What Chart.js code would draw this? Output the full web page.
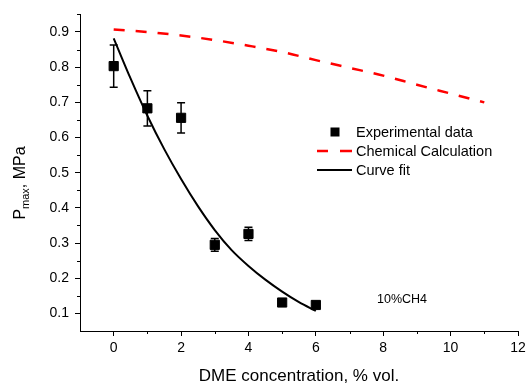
<!DOCTYPE html>
<html><head><meta charset="utf-8">
<script src="https://cdn.jsdelivr.net/npm/chart.js@4"></script>
<style>html,body{margin:0;padding:0;background:#fff}#wrap{width:530px;height:389px}</style>
</head><body><div id="wrap"><canvas id="c" width="530" height="389"></canvas></div>
<script>
const expX = [0, 1, 2, 3, 4, 5, 6];
const expY = [0.803, 0.683, 0.656, 0.295, 0.326, 0.131, 0.124];
const expErr = [0.06, 0.05, 0.043, 0.018, 0.019, 0.004, 0.004];
const calcX = [0, 1, 2, 3, 4, 5, 6, 7, 8, 9, 10, 11];
const calcY = [0.907, 0.900, 0.890, 0.877, 0.861, 0.843, 0.820, 0.798, 0.776, 0.750, 0.725, 0.700];
const fitX = [0, 0.5, 1, 1.5, 2, 2.5, 3, 3.5, 4, 4.5, 5, 5.5, 6];
const fitY = [0.882, 0.768, 0.662, 0.567, 0.482, 0.405, 0.337, 0.280, 0.235, 0.196, 0.162, 0.132, 0.107];
const xTicks = [0, 2, 4, 6, 8, 10, 12];
const yTicks = [0.1, 0.2, 0.3, 0.4, 0.5, 0.6, 0.7, 0.8, 0.9];
const xMinor = [1, 3, 5, 7, 9, 11];
const yMinor = [0.15, 0.25, 0.35, 0.45, 0.55, 0.65, 0.75, 0.85, 0.95];
const legendLabels = ['Experimental data', 'Chemical Calculation', 'Curve fit'];
const noteText = '10%CH4';
const xTitle = 'DME concentration, % vol.';
const yTitleParts = ['P', 'max', ', MPa'];

const FONT = 'Liberation Sans, Arial, sans-serif';

const extras = {
  id: 'extras',
  afterDatasetsDraw(chart) {
    const ctx = chart.ctx, xs = chart.scales.x, ys = chart.scales.y;
    ctx.save();
    ctx.strokeStyle = '#000';
    ctx.lineWidth = 1.5;
    for (let i = 0; i < expX.length; i++) {
      const px = xs.getPixelForValue(expX[i]);
      const t = ys.getPixelForValue(expY[i] + expErr[i]);
      const b = ys.getPixelForValue(expY[i] - expErr[i]);
      ctx.beginPath();
      ctx.moveTo(px, t); ctx.lineTo(px, b);
      ctx.moveTo(px - 4, t); ctx.lineTo(px + 4, t);
      ctx.moveTo(px - 4, b); ctx.lineTo(px + 4, b);
      ctx.stroke();
    }
    ctx.restore();
  },
  afterDraw(chart) {
    const ctx = chart.ctx, xs = chart.scales.x, ys = chart.scales.y, a = chart.chartArea;
    ctx.save();
    ctx.strokeStyle = '#000';
    ctx.lineWidth = 1;
    ctx.beginPath();
    xMinor.forEach(v => { const p = Math.round(xs.getPixelForValue(v)) + 0.5; ctx.moveTo(p, a.bottom); ctx.lineTo(p, a.bottom + 3); });
    yMinor.forEach(v => { const p = Math.round(ys.getPixelForValue(v)) + 0.5; ctx.moveTo(a.left, p); ctx.lineTo(a.left - 3, p); });
    ctx.stroke();

    ctx.fillStyle = '#000';
    // x title
    ctx.font = '17px ' + FONT;
    ctx.textAlign = 'center';
    ctx.textBaseline = 'alphabetic';
    ctx.fillText(xTitle, (a.left + a.right) / 2, 381);

    // y title (rotated, with subscript)
    ctx.save();
    ctx.translate(25, 183);
    ctx.rotate(-Math.PI / 2);
    const big = '16px ' + FONT, small = '11px ' + FONT;
    ctx.font = big; const w1 = ctx.measureText(yTitleParts[0]).width;
    ctx.font = small; const w2 = ctx.measureText(yTitleParts[1]).width;
    ctx.font = big; const w3 = ctx.measureText(yTitleParts[2]).width;
    let sx = -(w1 + w2 + w3) / 2;
    ctx.textAlign = 'left';
    ctx.font = big; ctx.fillText(yTitleParts[0], sx, 0); sx += w1;
    ctx.font = small; ctx.fillText(yTitleParts[1], sx, 4); sx += w2;
    ctx.font = big; ctx.fillText(yTitleParts[2], sx, 0);
    ctx.restore();

    // legend
    ctx.font = '14.5px ' + FONT;
    ctx.textAlign = 'left';
    ctx.textBaseline = 'middle';
    const lx = 356, ly = [132, 151, 170];
    ctx.fillRect(335 - 4.5, ly[0] - 4.5, 9, 9);
    ctx.strokeStyle = '#ff0000'; ctx.lineWidth = 2.5;
    ctx.beginPath(); ctx.moveTo(317, ly[1]); ctx.lineTo(328, ly[1]); ctx.moveTo(340, ly[1]); ctx.lineTo(352, ly[1]); ctx.stroke();
    ctx.strokeStyle = '#000'; ctx.lineWidth = 2;
    ctx.beginPath(); ctx.moveTo(317, ly[2]); ctx.lineTo(352, ly[2]); ctx.stroke();
    legendLabels.forEach((t, i) => ctx.fillText(t, lx, ly[i] + 1));

    // annotation
    ctx.font = '12.5px ' + FONT;
    ctx.fillText(noteText, 377, 300);
    ctx.restore();
  }
};

const axisCommon = {
  type: 'linear',
  grid: { display: true, drawOnChartArea: false, drawTicks: true, tickLength: 5, color: '#000', tickColor: '#000', lineWidth: 1 },
  border: { display: true, color: '#000', width: 1 },
};

new Chart(document.getElementById('c'), {
  type: 'scatter',
  data: {
    datasets: [
      { label: legendLabels[1], type: 'line', data: calcX.map((x, i) => ({ x, y: calcY[i] })),
        borderColor: '#ff0000', borderWidth: 2.5, borderDash: [11, 11], pointRadius: 0, cubicInterpolationMode: 'monotone', fill: false },
      { label: legendLabels[2], type: 'line', data: fitX.map((x, i) => ({ x, y: fitY[i] })),
        borderColor: '#000', borderWidth: 2, pointRadius: 0, cubicInterpolationMode: 'monotone', fill: false },
      { label: legendLabels[0], data: expX.map((x, i) => ({ x, y: expY[i] })),
        pointStyle: 'rect', pointRadius: 6.5, backgroundColor: '#000', borderColor: '#000', borderWidth: 1, showLine: false }
    ]
  },
  options: {
    responsive: false,
    animation: false,
    events: [],
    layout: { padding: { left: 0, right: 12, top: 7, bottom: 0 } },
    plugins: { legend: { display: false }, tooltip: { enabled: false } },
    scales: {
      x: Object.assign({}, axisCommon, {
        min: -1, max: 12,
        afterBuildTicks: s => { s.ticks = xTicks.map(v => ({ value: v })); },
        afterFit: s => { s.height = 58; },
        ticks: { color: '#000', font: { family: FONT, size: 14 }, padding: 4, maxRotation: 0, autoSkip: false }
      }),
      y: Object.assign({}, axisCommon, {
        min: 0.05, max: 0.95,
        afterBuildTicks: s => { s.ticks = yTicks.map(v => ({ value: v })); },
        afterFit: s => { s.width = 80; },
        ticks: { color: '#000', font: { family: FONT, size: 14 }, padding: 6, autoSkip: false, callback: v => v.toFixed(1) }
      })
    }
  },
  plugins: [extras]
});
</script>
</body></html>
